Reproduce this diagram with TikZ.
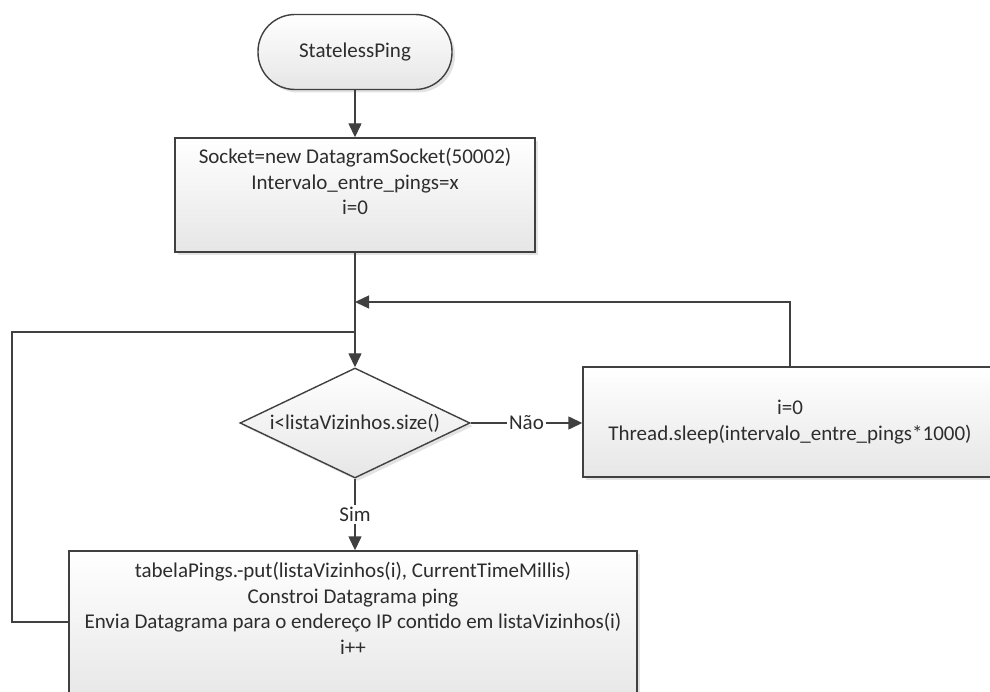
\documentclass[tikz,border=0pt]{standalone}
\usepackage{fontspec}
\setmainfont{Carlito}
\usetikzlibrary{shapes.geometric,shadows,arrows.meta}
\definecolor{ln}{RGB}{64,64,64}
\definecolor{txtc}{RGB}{45,45,45}
\definecolor{shd}{RGB}{230,230,230}
\begin{document}
\begin{tikzpicture}[x=1pt,y=-1pt,
  shapebase/.style={draw=ln, line width=1.4pt, top color=white, bottom color=shd,
    drop shadow={shadow xshift=3pt,shadow yshift=-3pt,opacity=0.22}},
  bodyfont/.style={font=\fontsize{21}{25.5}\selectfont, text=txtc, align=center},
  termbox/.style={shapebase, bodyfont, rectangle, rounded corners=37pt,
    minimum width=194pt, minimum height=75pt, inner sep=0pt},
  procbox/.style={shapebase, bodyfont, rectangle, inner sep=0pt},
  decbox/.style={shapebase, diamond, inner sep=0pt, minimum width=230pt, minimum height=110pt},
  txt/.style={bodyfont, inner sep=0pt},
  conn/.style={draw=ln, line width=1.4pt, -{Triangle[length=14pt,width=13pt]}},
  plainline/.style={draw=ln, line width=1.4pt},
  lbl/.style={bodyfont, fill=white, inner sep=2pt}
]
\useasboundingbox (0,0) rectangle (990,692);

% shapes
\node[termbox] (start) at (355,52) {StatelessPing};
\node[procbox, minimum width=360pt, minimum height=114pt] (init) at (355,195) {};
\node[txt, anchor=north] (initT) at (355,148) {Socket=new DatagramSocket(50002)\\Intervalo\_entre\_pings=x\\i=0};
\node[decbox] (cond) at (355,423) {};
\node[txt] (condT) at (cond) {i<listaVizinhos.size()};
\node[procbox, minimum width=414pt, minimum height=110pt] (sleep) at (790,422)
  {i=0\\Thread.sleep(intervalo\_entre\_pings*1000)};
\node[procbox, minimum width=568pt, minimum height=155pt] (body) at (353,628.5) {};
\node[txt, anchor=north] (bodyT) at (353,562) {tabelaPings.-put(listaVizinhos(i), CurrentTimeMillis)\\Constroi Datagrama ping\\Envia Datagrama para o endereço IP contido em listaVizinhos(i)\\i++};

% helper coordinates
\coordinate (merge) at (355,302);
\coordinate (join) at (355,332);
\coordinate (loopL) at (12,622);

% connectors
\draw[conn] (start) -- (init);
\draw[conn] (init) -- (cond);
\draw[conn] (cond.east) -- node[lbl] (nao) {Não} (cond.east -| sleep.west);
\draw[conn] (cond.south) -- node[lbl] (sim) {Sim} (cond.south |- body.north);
\draw[conn] (sleep.north) -- (sleep.north |- merge) -- (merge);
\draw[plainline] (body.west |- loopL) -- (loopL) -- (loopL |- join) -- (join);
\end{tikzpicture}
\end{document}
